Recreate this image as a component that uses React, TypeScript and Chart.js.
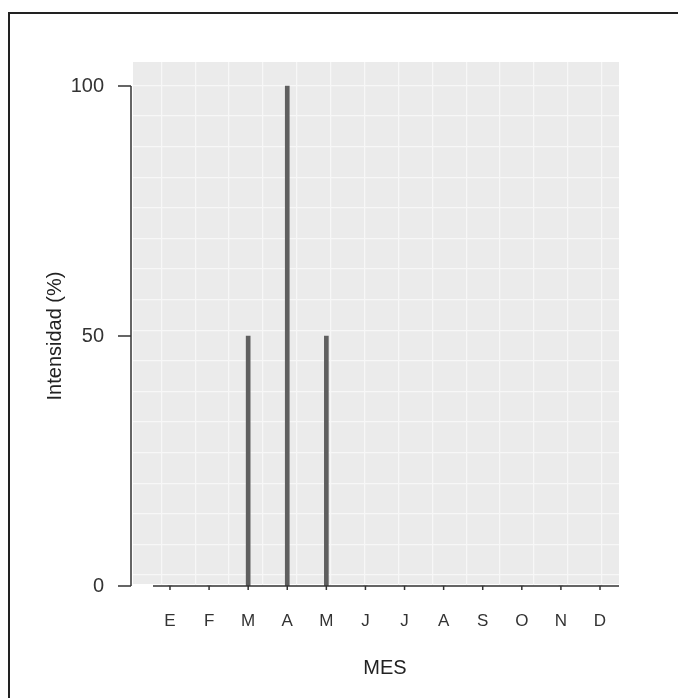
import React, { useEffect, useRef } from "react";
import { Chart, registerables } from "chart.js";

Chart.register(...registerables);

// ---- data ----
const months = ["E", "F", "M", "A", "M", "J", "J", "A", "S", "O", "N", "D"];
const monthIndex = [1, 2, 3, 4, 5, 6, 7, 8, 9, 10, 11, 12];
const intensity = [0, 0, 50, 100, 50, 0, 0, 0, 0, 0, 0, 0];
const yTickValues = [0, 50, 100];
const xTitle = "MES";
const yTitle = "Intensidad (%)";
// background grid lines (independent of the month ticks)
const gridXValues = [0, 1, 2, 3, 4, 5, 6, 7, 8, 9, 10, 11, 12];
const gridYValues = [0, 1, 2, 3, 4, 5, 6, 7, 8, 9, 10, 11, 12, 13, 14, 15, 16];

const FONT = "'Liberation Sans', Arial, sans-serif";
const W = 678;
const H = 698;

const decor = {
  id: "decor",
  beforeDraw(chart: any) {
    const { ctx, chartArea } = chart;
    ctx.save();
    ctx.fillStyle = "#EBEBEB";
    ctx.fillRect(chartArea.left, chartArea.top, chartArea.right - chartArea.left, chartArea.bottom - chartArea.top - 2);
    ctx.restore();
  },
  afterDatasetsDraw(chart: any) {
    const { ctx, chartArea } = chart;
    const xs = chart.scales.x;
    const ys = chart.scales.y;
    ctx.save();
    ctx.strokeStyle = "#333333";
    ctx.lineWidth = 1.5;
    // y range frame
    const yx = chartArea.left - 2;
    ctx.beginPath();
    ctx.moveTo(yx, ys.getPixelForValue(0));
    ctx.lineTo(yx, ys.getPixelForValue(100));
    yTickValues.forEach((v) => {
      const py = ys.getPixelForValue(v);
      ctx.moveTo(yx - 13, py);
      ctx.lineTo(yx, py);
    });
    ctx.stroke();
    // x axis line
    const by = ys.getPixelForValue(0);
    ctx.beginPath();
    ctx.moveTo(xs.getPixelForValue(0.565), by);
    ctx.lineTo(chartArea.right, by);
    monthIndex.forEach((m) => {
      const px = xs.getPixelForValue(m);
      ctx.moveTo(px, by);
      ctx.lineTo(px, by + 4);
    });
    ctx.stroke();
    // titles
    ctx.fillStyle = "#222222";
    ctx.font = `20px ${FONT}`;
    ctx.textAlign = "center";
    ctx.textBaseline = "middle";
    ctx.fillText(xTitle, xs.getPixelForValue(6.5), 668);
    ctx.translate(55, ys.getPixelForValue(50));
    ctx.rotate(-Math.PI / 2);
    ctx.fillText(yTitle, 0, 0);
    ctx.restore();
  },
};

export default function App() {
  const ref = useRef<HTMLCanvasElement | null>(null);

  useEffect(() => {
    if (!ref.current) return;
    const chart = new Chart(ref.current, {
      type: "bar",
      data: {
        datasets: [
          {
            data: monthIndex.map((m, i) => ({ x: m, y: intensity[i] })),
            backgroundColor: "#5F5F5F",
            borderWidth: 0,
            barThickness: 4,
          },
        ],
      },
      options: {
        responsive: false,
        animation: false,
        events: [],
        layout: { padding: { top: 62, right: 59, left: 0, bottom: 0 } },
        plugins: { legend: { display: false }, tooltip: { enabled: false } },
        scales: {
          x: {
            type: "linear",
            position: "bottom",
            min: 0.054,
            max: 12.486,
            offset: false,
            grid: { display: false, drawTicks: false, offset: false },
            border: { display: false },
            afterBuildTicks: (s: any) => {
              s.ticks = monthIndex.map((v) => ({ value: v }));
            },
            ticks: {
              autoSkip: false,
              maxRotation: 0,
              padding: 25,
              color: "#333333",
              font: { family: FONT, size: 17 },
              callback: (v: any) => months[Number(v) - 1],
            },
            afterFit: (s: any) => {
              s.height = 112;
            },
          },
          xg: {
            type: "linear",
            position: "bottom",
            min: -0.782,
            max: 12.46,
            afterBuildTicks: (s: any) => {
              s.ticks = gridXValues.map((v) => ({ value: v }));
            },
            ticks: { display: false },
            grid: { color: "#F7F7F7", lineWidth: 1.2, drawTicks: false },
            border: { display: false },
            afterFit: (s: any) => {
              s.height = 0;
            },
          },
          y: {
            type: "linear",
            position: "left",
            min: 0,
            max: 104.8,
            afterBuildTicks: (s: any) => {
              s.ticks = yTickValues.map((v) => ({ value: v }));
            },
            grid: { display: false, drawTicks: false },
            border: { display: false },
            ticks: {
              padding: 29,
              color: "#333333",
              font: { family: FONT, size: 20 },
            },
            afterFit: (s: any) => {
              s.width = 133;
            },
          },
          yg: {
            type: "linear",
            position: "left",
            min: -0.359,
            max: 16.765,
            afterBuildTicks: (s: any) => {
              s.ticks = gridYValues.map((v) => ({ value: v }));
            },
            ticks: { display: false },
            grid: { color: "#F7F7F7", lineWidth: 1.2, drawTicks: false },
            border: { display: false },
            afterFit: (s: any) => {
              s.width = 0;
            },
          },
        },
      },
      plugins: [decor],
    });
    return () => chart.destroy();
  }, []);

  return (
    <div style={{ position: "fixed", left: 0, top: 0, width: W, height: H, overflow: "hidden", background: "#fff" }}>
      <div
        style={{
          position: "absolute",
          left: 8,
          top: 12,
          width: 720,
          height: 720,
          border: "2px solid #222",
          boxSizing: "border-box",
        }}
      />
      <canvas ref={ref} width={W} height={H} style={{ position: "absolute", left: 0, top: 0, display: "block" }} />
    </div>
  );
}
